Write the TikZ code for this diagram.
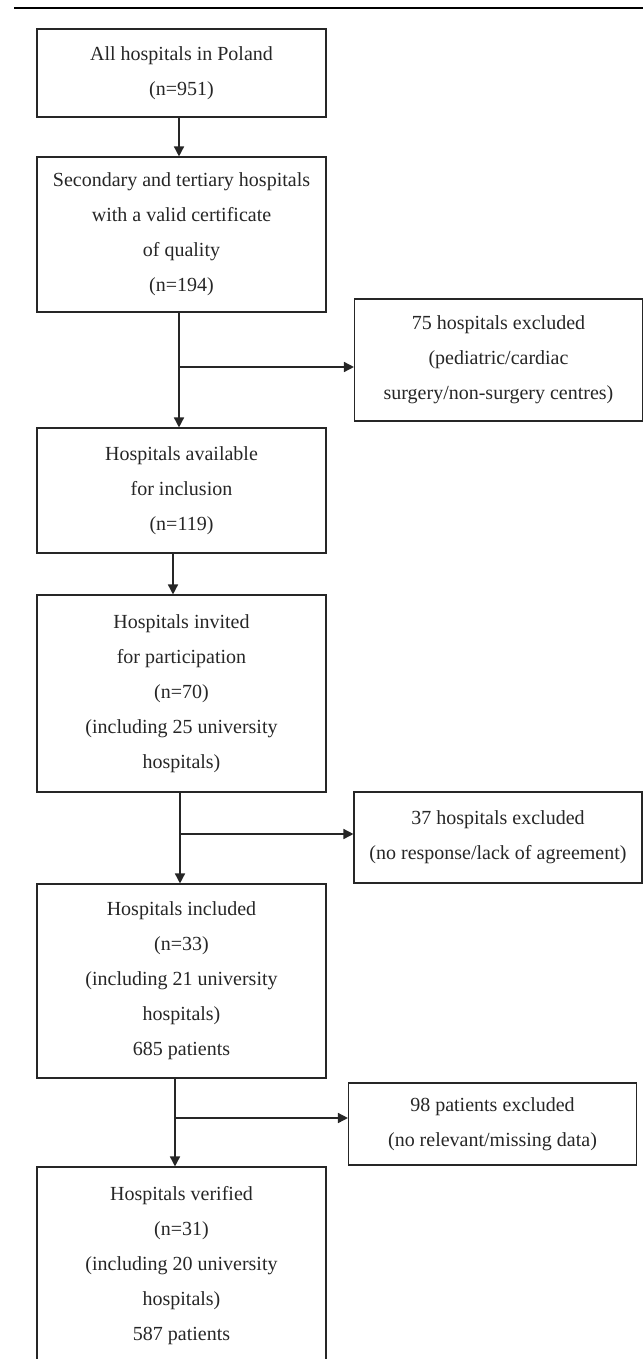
\documentclass[tikz,border=0pt]{standalone}
\usepackage{fontspec}
\setmainfont{Liberation Serif}
\usepackage{tikz}
\usetikzlibrary{arrows.meta}
\usetikzlibrary{calc}

\begin{document}
\begin{tikzpicture}[x=1pt,y=-1pt,
  stage/.style={draw=black!85, line width=1.1pt, align=center, inner sep=0pt, minimum width=289pt, text=black!85, font=\fontsize{20}{35}\selectfont},
  excl/.style={stage, minimum width=288pt},
  arr/.style={draw=black!85, line width=1.5pt, -{Triangle[length=10pt,width=10pt]}}
  ]
  \useasboundingbox (0,0) rectangle (643,1359);
  \draw[line width=2.5pt] (14,8) -- (643,8);

  \node[stage, minimum height=88pt] (all) at (181.5,73) {All hospitals in Poland\\(n=951)};
  \node[stage, minimum height=155pt] (cert) at (181.5,234.5) {Secondary and tertiary hospitals\\with a valid certificate\\of quality\\(n=194)};
  \node[stage, minimum height=125pt] (avail) at (181.5,490.5) {Hospitals available\\for inclusion\\(n=119)};
  \node[stage, minimum height=197pt] (invit) at (181.5,693.5) {Hospitals invited\\for participation\\(n=70)\\(including 25 university\\hospitals)};
  \node[stage, minimum height=194pt] (incl) at (181.5,981) {Hospitals included\\(n=33)\\(including 21 university\\hospitals)\\685 patients};
  \node[stage, minimum height=197pt] (verif) at (181.5,1265.5) {Hospitals verified\\(n=31)\\(including 20 university\\hospitals)\\587 patients};

  \node[excl, minimum height=122pt] (exA) at (498.5,360) {75 hospitals excluded\\(pediatric/cardiac\\surgery/non-surgery centres)};
  \node[excl, minimum height=91pt] (exB) at (498,837.5) {37 hospitals excluded\\(no response/lack of agreement)};
  \node[excl, minimum height=82pt] (exC) at (492.5,1124) {98 patients excluded\\(no relevant/missing data)};

  \coordinate (jA) at (179,367);
  \coordinate (jB) at (180,834);
  \coordinate (jC) at (175,1118);

  \draw[arr] ([xshift=-2.5pt]all.south) -- ([xshift=-2.5pt]cert.north);
  \draw[arr] ([xshift=-2.5pt]cert.south) -- ([xshift=-2.5pt]avail.north);
  \draw[arr] (jA) -- (jA -| exA.west);
  \draw[arr] ([xshift=-8.5pt]avail.south) -- ([xshift=-8.5pt]invit.north);
  \draw[arr] ([xshift=-1.5pt]invit.south) -- ([xshift=-1.5pt]incl.north);
  \draw[arr] (jB) -- (jB -| exB.west);
  \draw[arr] ([xshift=-6.5pt]incl.south) -- ([xshift=-6.5pt]verif.north);
  \draw[arr] (jC) -- (jC -| exC.west);
\end{tikzpicture}
\end{document}
